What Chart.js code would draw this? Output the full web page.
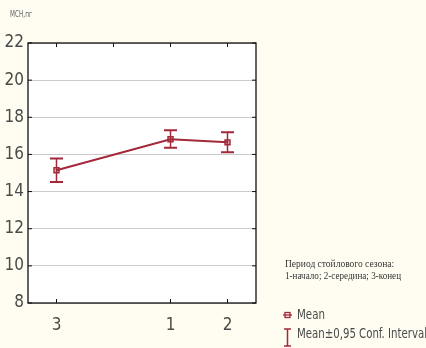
<!DOCTYPE html>
<html>
<head>
<meta charset="utf-8">
<script src="https://cdn.jsdelivr.net/npm/chart.js@4"></script>
<style>
  html, body { margin: 0; padding: 0; background: #fffdf2; }
  #wrap { width: 426px; height: 348px; }
</style>
</head>
<body>
<div id="wrap"><canvas id="c" width="426" height="348"></canvas></div>
<script>
// Period of the stall season (empty slot keeps the axis spacing)
const categories = ['3', '', '1', '2'];
const meanValues = [15.15, null, 16.82, 16.65];
const ciLower   = [14.52, null, 16.36, 16.12];
const ciUpper   = [15.78, null, 17.30, 17.20];
const yTicks = [8, 10, 12, 14, 16, 18, 20, 22];

const axisTitle = 'МСН,пг';
const noteLines = ['Период стойлового сезона:', '1-начало; 2-середина; 3-конец'];
const legendMean = 'Mean';
const legendCI = 'Mean±0,95 Conf. Interval';

const RED = '#a2283a';
const NARROW = "'Liberation Sans Narrow', 'Arial Narrow', 'DejaVu Sans Condensed', sans-serif";

// draw text squeezed horizontally to a given width
function squeezed(ctx, text, x, y, width) {
  const w = ctx.measureText(text).width;
  const k = Math.min(1, width / w);
  ctx.save();
  ctx.translate(x, y);
  ctx.scale(k, 1);
  ctx.fillText(text, 0, 0);
  ctx.restore();
}

// White plot background, frame, inward ticks, error bars and the side texts
const decor = {
  id: 'decor',
  beforeDraw(chart) {
    const { ctx, chartArea: a } = chart;
    ctx.save();
    ctx.fillStyle = '#ffffff';
    ctx.fillRect(a.left, a.top, a.right - a.left, a.bottom - a.top);
    ctx.restore();
  },
  afterDatasetsDraw(chart) {
    const { ctx, chartArea: a, scales: { x, y } } = chart;
    ctx.save();
    // error bars
    ctx.strokeStyle = RED;
    categories.forEach((c, i) => {
      if (ciLower[i] == null) return;
      const px = x.getPixelForValue(i);
      const lo = y.getPixelForValue(ciLower[i]);
      const hi = y.getPixelForValue(ciUpper[i]);
      ctx.lineWidth = 1.5;
      ctx.beginPath();
      ctx.moveTo(px, lo); ctx.lineTo(px, hi);
      ctx.stroke();
      ctx.lineWidth = 2;
      ctx.beginPath();
      ctx.moveTo(px - 6.5, lo); ctx.lineTo(px + 6.5, lo);
      ctx.moveTo(px - 6.5, hi); ctx.lineTo(px + 6.5, hi);
      ctx.stroke();
    });
    // frame
    ctx.strokeStyle = '#111';
    ctx.lineWidth = 1.3;
    ctx.strokeRect(a.left, a.top, a.right - a.left, a.bottom - a.top);
    // inward tick marks
    ctx.lineWidth = 1;
    ctx.beginPath();
    yTicks.forEach(v => {
      const py = y.getPixelForValue(v);
      ctx.moveTo(a.left, py); ctx.lineTo(a.left + 4, py);
      ctx.moveTo(a.right, py); ctx.lineTo(a.right - 4, py);
    });
    categories.forEach((c, i) => {
      const px = x.getPixelForValue(i);
      ctx.moveTo(px, a.top); ctx.lineTo(px, a.top + 4);
      if (c !== '') { ctx.moveTo(px, a.bottom); ctx.lineTo(px, a.bottom - 4); }
    });
    ctx.stroke();

    ctx.textBaseline = 'middle';
    ctx.textAlign = 'left';

    // axis title
    ctx.fillStyle = '#666';
    ctx.font = "8px " + NARROW;
    squeezed(ctx, axisTitle, 10, 15, 22);

    // note
    ctx.fillStyle = '#333';
    ctx.font = "9.5px 'Liberation Serif', 'DejaVu Serif', serif";
    squeezed(ctx, noteLines[0], 285, 264, 110);
    squeezed(ctx, noteLines[1], 285, 276, 116);

    // legend
    ctx.strokeStyle = RED;
    ctx.lineWidth = 1.3;
    ctx.beginPath();
    ctx.moveTo(283, 315); ctx.lineTo(292, 315);
    ctx.stroke();
    ctx.strokeRect(285, 312.5, 5, 5);
    ctx.lineWidth = 1.5;
    ctx.beginPath();
    ctx.moveTo(287.5, 329); ctx.lineTo(287.5, 346);
    ctx.moveTo(284, 329); ctx.lineTo(291, 329);
    ctx.moveTo(284, 346); ctx.lineTo(291, 346);
    ctx.stroke();
    ctx.fillStyle = '#4a4a4a';
    ctx.font = "14px " + NARROW;
    squeezed(ctx, legendMean, 297, 315, 28);
    squeezed(ctx, legendCI, 297, 334, 130);
    ctx.restore();
  }
};

new Chart(document.getElementById('c'), {
  type: 'line',
  data: {
    labels: categories,
    datasets: [{
      label: legendMean,
      data: meanValues,
      spanGaps: true,
      borderColor: RED,
      borderWidth: 2,
      tension: 0,
      pointStyle: 'rect',
      pointRadius: 3.5,
      pointBorderWidth: 1.5,
      pointBorderColor: RED,
      pointBackgroundColor: 'rgba(162,40,58,0.25)'
    }]
  },
  options: {
    responsive: false,
    animation: false,
    events: [],
    layout: { padding: { left: 0, right: 170, top: 43, bottom: 0 } },
    plugins: { legend: { display: false }, tooltip: { enabled: false } },
    scales: {
      x: {
        type: 'category',
        offset: true,
        grid: { display: false, drawTicks: false },
        border: { display: false },
        ticks: {
          padding: 12,
          color: '#4a4a4a',
          font: { family: NARROW, size: 17 },
          autoSkip: false,
          maxRotation: 0
        },
        afterFit(s) { s.height = 45; }
      },
      y: {
        min: 8,
        max: 22,
        afterBuildTicks(s) { s.ticks = yTicks.map(v => ({ value: v })); },
        grid: { color: '#cccccc', lineWidth: 1, drawTicks: false },
        border: { display: false },
        ticks: {
          padding: 4,
          color: '#4a4a4a',
          font: { family: NARROW, size: 17 }
        },
        afterFit(s) { s.width = 28; }
      }
    }
  },
  plugins: [decor]
});
</script>
</body>
</html>
